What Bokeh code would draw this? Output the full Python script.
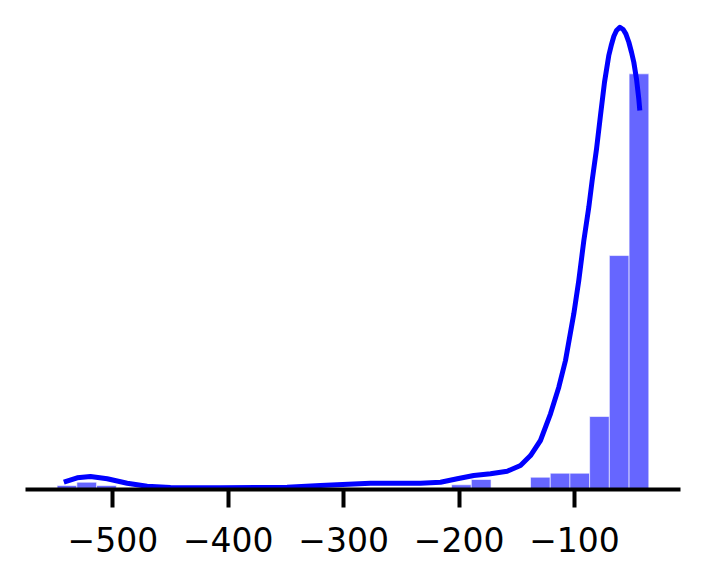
from bokeh.plotting import figure
from bokeh.models import FixedTicker, Range1d
from bokeh.embed import file_html
from bokeh.resources import INLINE

# Histogram (density) bins that are non-empty: left edges and heights
bin_width = 17.09
bin_left = [-548.3, -531.2, -514.1, -206.5, -189.4, -138.1, -121.0, -104.0, -86.9, -69.8, -52.7]
bin_density = [0.000293, 0.000535, 0.000293, 0.000345, 0.000733, 0.000902,
               0.001195, 0.001195, 0.00535, 0.01715, 0.03047]

# KDE curve (density in units of 1e-3)
kde_x = [-542.5, -530.9, -519.4, -504.9, -487.6, -470.3, -450.1, -406.8, -349.0, -320.1,
         -276.8, -233.4, -216.1, -201.6, -187.3, -172.8, -158.3, -146.8, -138.1, -129.5,
         -120.8, -113.6, -107.8, -100.6, -96.3, -91.9, -87.6, -84.7, -80.9, -77.5,
         -74.0, -70.3, -68.2, -65.9, -63.6, -60.7, -57.8, -55.5, -52.9, -50.6,
         -48.6, -46.3, -44.3, -43.4]
kde_y_milli = [0.535, 0.858, 0.953, 0.784, 0.462, 0.242, 0.147, 0.125, 0.169, 0.293,
               0.462, 0.462, 0.535, 0.784, 1.026, 1.151, 1.341, 1.759, 2.492, 3.592,
               5.549, 7.499, 9.456, 12.879, 15.320, 18.252, 20.693, 22.650, 24.973, 27.414,
               29.855, 31.812, 32.545, 33.227, 33.645, 33.887, 33.718, 33.403, 32.787, 32.054,
               31.321, 30.104, 28.638, 27.781]

tick_values = [-500, -400, -300, -200, -100]
tick_labels = ["\u2212500", "\u2212400", "\u2212300", "\u2212200", "\u2212100"]

p = figure(width=689, height=562, output_backend="svg", toolbar_location=None,
           x_range=Range1d(-575.7, -8.15), y_range=Range1d(0, 0.03526),
           y_axis_location=None,
           min_border_left=25, min_border_right=9, min_border_top=8, min_border_bottom=73)
p.outline_line_color = None
p.grid.visible = False
p.background_fill_color = "white"
p.border_fill_color = "white"

bin_right = [l + bin_width for l in bin_left]
p.quad(left=bin_left, right=bin_right, bottom=0, top=bin_density,
       fill_color="blue", fill_alpha=0.6, line_color="white", line_alpha=0.6, line_width=1)

kde_y = [v / 1000.0 for v in kde_y_milli]
p.line(kde_x, kde_y, line_color="blue", line_width=5, line_join="round")

ax = p.xaxis[0]
ax.ticker = FixedTicker(ticks=tick_values)
ax.major_label_overrides = {v: s for v, s in zip(tick_values, tick_labels)}
ax.axis_line_width = 4
ax.axis_line_color = "black"
ax.major_tick_line_width = 4
ax.major_tick_line_color = "black"
ax.major_tick_out = 18
ax.major_tick_in = 0
ax.minor_tick_out = 0
ax.minor_tick_in = 0
ax.major_label_text_font = "DejaVu Sans"
ax.major_label_text_font_size = "33px"
ax.major_label_text_color = "black"
ax.major_label_standoff = 19

open("out.html", "w").write(file_html(p, INLINE))
